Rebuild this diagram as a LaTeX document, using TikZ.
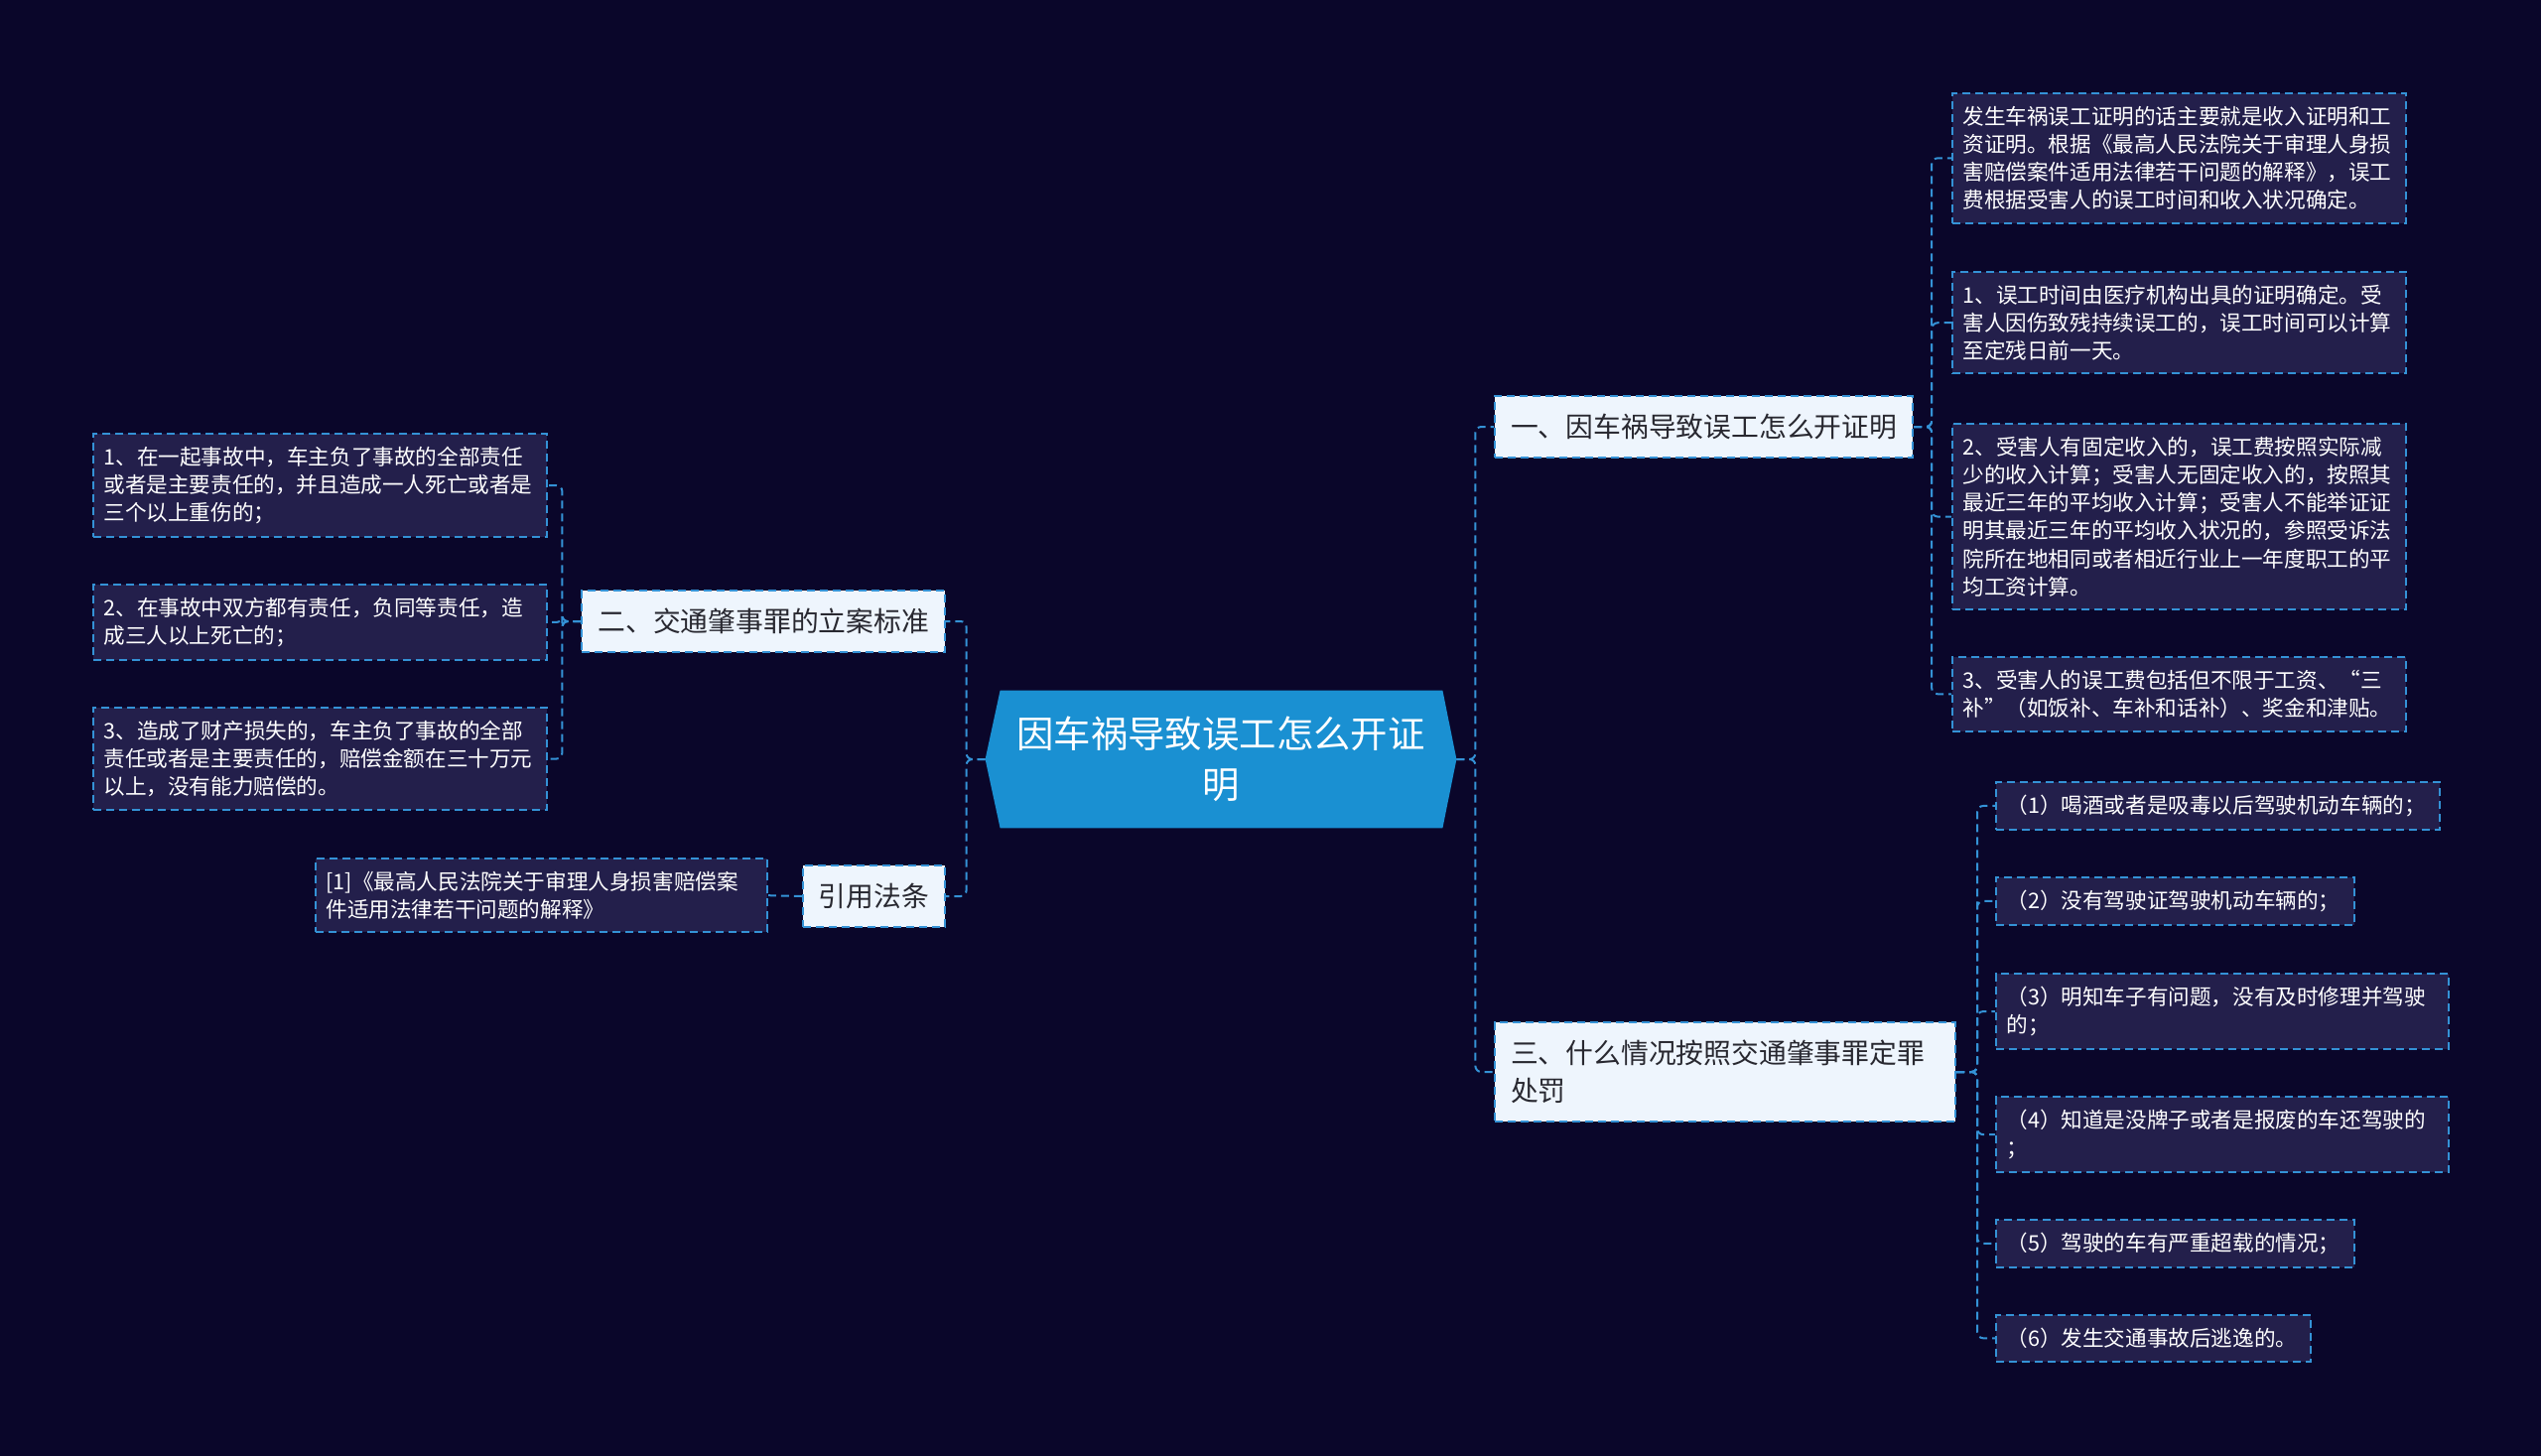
\documentclass[tikz,border=0pt]{standalone}
\usepackage{fontspec}
\newfontfamily\cjk{Noto Sans CJK SC}
\usepackage{xcolor}
\usepackage{tikz}
\usetikzlibrary{positioning, backgrounds}

\definecolor{bgnavy}{RGB}{10,6,42}
\definecolor{hubblue}{RGB}{26,144,210}
\definecolor{linkblue}{RGB}{52,146,214}
\definecolor{branchfill}{RGB}{238,245,253}
\definecolor{branchtext}{RGB}{40,40,48}
\definecolor{leaffill}{RGB}{35,31,75}

\begin{document}
\begin{tikzpicture}[
    x=0.5pt, y=-0.5pt,
    hub/.style={rectangle, minimum width=237pt, minimum height=69pt, text=white, font=\cjk\fontsize{18.7}{25.3}\selectfont, align=center},
    branch/.style={rectangle, draw=linkblue, line width=1pt, dash pattern=on 4pt off 2.5pt, fill=branchfill, text=branchtext, font=\cjk\fontsize{13.9}{18.8}\selectfont, inner xsep=8pt, inner ysep=9pt, align=left},
    leaf/.style={rectangle, draw=linkblue, line width=1pt, dash pattern=on 4pt off 2.5pt, fill=leaffill, text=white, font=\cjk\fontsize{10.8}{14.1}\selectfont, inner xsep=5.25pt, inner ysep=6.5pt, align=left, anchor=north west},
    link/.style={draw=linkblue, line width=1pt, dash pattern=on 4pt off 2.5pt, rounded corners=3pt}
  ]
  \useasboundingbox (0,0) rectangle (2560,1467);

  \node[hub] (hub) at (1230,765) {因车祸导致误工怎么开证\\明};

  % main branches
  \node[branch, anchor=west] (b1) at (1505,430) {一、因车祸导致误工怎么开证明};
  \node[branch, anchor=west, text width=216pt] (b3) at (1505,1080) {三、什么情况按照交通肇事罪定罪\\处罚};
  \node[branch, anchor=east] (b2) at (953,626) {二、交通肇事罪的立案标准};
  \node[branch, anchor=east] (law) at (953,903) {引用法条};

  % leaves of b1
  \node[leaf, text width=218pt] (a1) at (1966,93) {发生车祸误工证明的话主要就是收入证明和工\\资证明。根据《最高人民法院关于审理人身损\\害赔偿案件适用法律若干问题的解释》，误工\\费根据受害人的误工时间和收入状况确定。};
  \node[leaf, text width=218pt] (a2) at (1966,273) {1、误工时间由医疗机构出具的证明确定。受\\害人因伤致残持续误工的，误工时间可以计算\\至定残日前一天。};
  \node[leaf, text width=218pt] (a3) at (1966,426) {2、受害人有固定收入的，误工费按照实际减\\少的收入计算；受害人无固定收入的，按照其\\最近三年的平均收入计算；受害人不能举证证\\明其最近三年的平均收入状况的，参照受诉法\\院所在地相同或者相近行业上一年度职工的平\\均工资计算。};
  \node[leaf, text width=218pt] (a4) at (1966,661) {3、受害人的误工费包括但不限于工资、“三\\补”（如饭补、车补和话补）、奖金和津贴。};

  % leaves of b3
  \node[leaf, text width=213pt] (c1) at (2010,787) {（1）喝酒或者是吸毒以后驾驶机动车辆的；};
  \node[leaf, text width=170pt] (c2) at (2010,883) {（2）没有驾驶证驾驶机动车辆的；};
  \node[leaf, text width=217.5pt] (c3) at (2010,980) {（3）明知车子有问题，没有及时修理并驾驶\\的；};
  \node[leaf, text width=217.5pt] (c4) at (2010,1104) {（4）知道是没牌子或者是报废的车还驾驶的\\；};
  \node[leaf, text width=170pt] (c5) at (2010,1228) {（5）驾驶的车有严重超载的情况；};
  \node[leaf, text width=148pt] (c6) at (2010,1324) {（6）发生交通事故后逃逸的。};

  % leaves of b2 and law
  \node[leaf, text width=218pt] (d1) at (93,436) {1、在一起事故中，车主负了事故的全部责任\\或者是主要责任的，并且造成一人死亡或者是\\三个以上重伤的；};
  \node[leaf, text width=218pt] (d2) at (93,588) {2、在事故中双方都有责任，负同等责任，造\\成三人以上死亡的；};
  \node[leaf, text width=218pt] (d3) at (93,712) {3、造成了财产损失的，车主负了事故的全部\\责任或者是主要责任的，赔偿金额在三十万元\\以上，没有能力赔偿的。};
  \node[leaf, text width=217pt] (ref1) at (317,864) {[1]《最高人民法院关于审理人身损害赔偿案\\件适用法律若干问题的解释》};

  \begin{scope}[on background layer]
    \fill[bgnavy] (0,0) rectangle (2560,1467);
    \fill[hubblue] (hub.west) -- ([xshift=7.5pt]hub.north west) -- ([xshift=-7pt]hub.north east) -- (hub.east) -- ([xshift=-7pt]hub.south east) -- ([xshift=7.5pt]hub.south west) -- cycle;
  \end{scope}

  % hub to branches
  \draw[link] (hub.east) -- ++(19,0) |- (b1.west);
  \draw[link] (hub.east) -- ++(19,0) |- (b3.west);
  \draw[link] (hub.west) -- ++(-19,0) |- (b2.east);
  \draw[link] (hub.west) -- ++(-19,0) |- (law.east);

  % branches to leaves
  \foreach \n in {a1,a2,a3,a4}
    \draw[link] (b1.east) -- ++(18,0) |- (\n.west);
  \foreach \n in {c1,c2,c3,c4,c5,c6}
    \draw[link] (b3.east) -- ++(21,0) |- (\n.west);
  \foreach \n in {d1,d2,d3}
    \draw[link] (b2.west) -- ++(-19,0) |- (\n.east);
  \draw[link] (law.west) -- (ref1.east);
\end{tikzpicture}
\end{document}
